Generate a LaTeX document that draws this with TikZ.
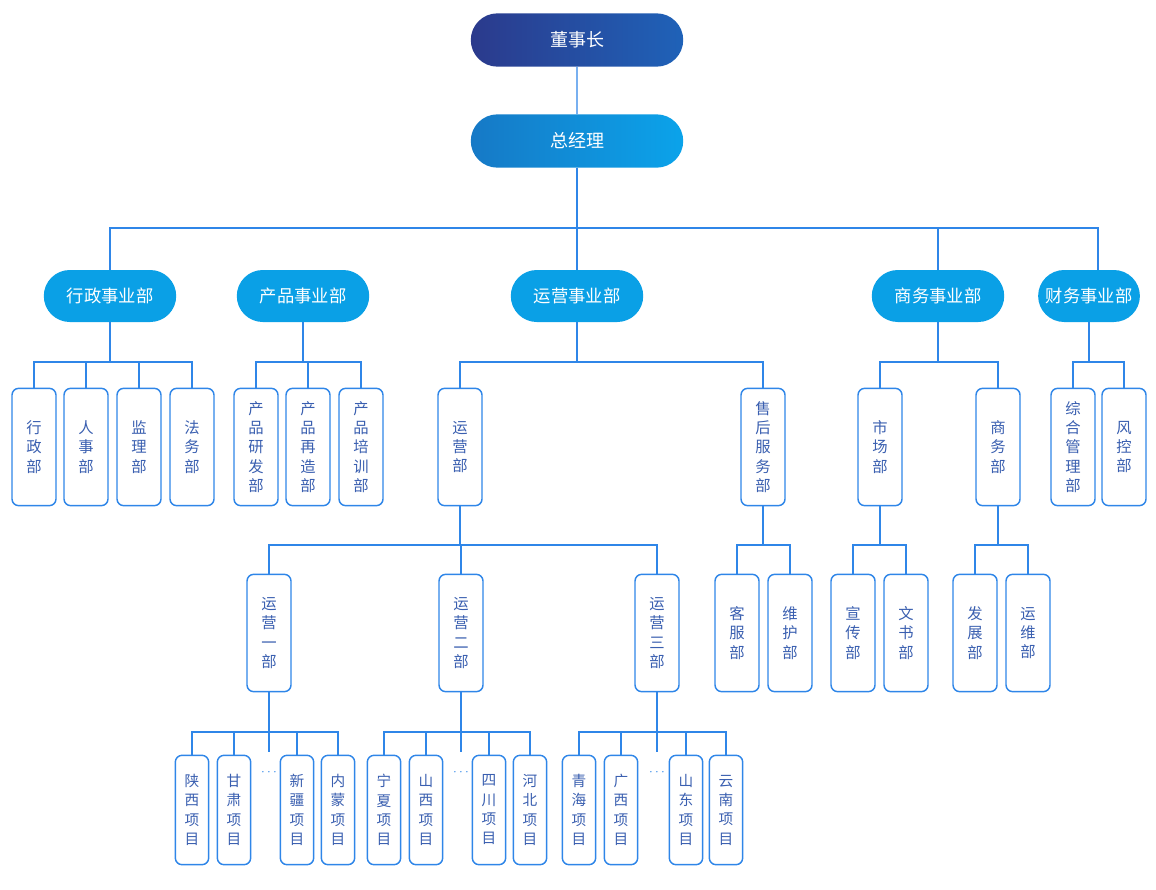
\documentclass[tikz,border=0pt]{standalone}
\usepackage{fontspec}
\setmainfont{Noto Sans CJK SC}
\usetikzlibrary{shapes.misc}
\definecolor{LineBlue}{HTML}{2F86E8}
\definecolor{PillBlue}{HTML}{0AA0E6}
\definecolor{TextBlue}{HTML}{3A5FB0}
\definecolor{NavyA}{HTML}{2B3A8C}
\definecolor{NavyB}{HTML}{1F62B8}
\definecolor{SkyA}{HTML}{1679C6}
\definecolor{SkyB}{HTML}{0BA3EA}

\begin{document}
\begin{tikzpicture}[
      x=0.75pt, y=-0.75pt,
      link/.style={LineBlue, line width=1.1pt},
      top/.style={rounded rectangle, minimum width=166pt, minimum height=40pt, text=white, font=\fontsize{13.5}{16}\selectfont},
      pill/.style={rounded rectangle, fill=PillBlue, minimum width=106pt, minimum height=39pt, text=white, font=\fontsize{13}{16}\selectfont},
      dept/.style={draw=LineBlue, line width=1.1pt, fill=white, rounded corners=5pt, minimum width=33pt, minimum height=88pt, text=TextBlue, align=center, font=\fontsize{11.5}{14.5}\selectfont},
      item/.style={draw=LineBlue, line width=1.1pt, fill=white, rounded corners=5pt, minimum width=25pt, minimum height=82pt, text=TextBlue, align=center, font=\fontsize{11}{14.5}\selectfont},
      dots/.style={text=LineBlue, font=\bfseries}
    ]
      \useasboundingbox (0,0) rectangle (1156,889);

      % top
      \node[top, left color=NavyA, right color=NavyB] (chair) at (577,40) {董事长};
      \node[top, left color=SkyA, right color=SkyB] (gm) at (577,141) {总经理};
      \draw[link] (chair) -- (gm);

      % divisions
      \node[pill] (xz) at (110,296) {行政事业部};
      \node[pill] (cp) at (303,296) {产品事业部};
      \node[pill] (yy) at (577,296) {运营事业部};
      \node[pill] (sw) at (938,296) {商务事业部};
      \node[pill, minimum width=83pt] (cw) at (1089,296) {财务事业部};
      \coordinate (cwin) at (1098,270);
      \draw[link] (gm.south) -- (577,228) -| (xz.north);
      \draw[link] (gm.south) -- (yy.north);
      \draw[link] (gm.south) -- (577,228) -| (sw.north);
      \draw[link] (gm.south) -- (577,228) -| (cwin);

      % departments
      \foreach \n/\x/\t/\p in {a1/34/行\\政\\部/xz, a2/86/人\\事\\部/xz, a3/139/监\\理\\部/xz, a4/192/法\\务\\部/xz,
          b1/256/产\\品\\研\\发\\部/cp, b2/308/产\\品\\再\\造\\部/cp, b3/361/产\\品\\培\\训\\部/cp,
          c1/460/运\\营\\部/yy, c2/763/售\\后\\服\\务\\部/yy,
          d1/880/市\\场\\部/sw, d2/998/商\\务\\部/sw,
          e1/1073/综\\合\\管\\理\\部/cw, e2/1124/风\\控\\部/cw}{
        \node[dept] (\n) at (\x,447) {\t};
        \draw[link] (\p.south) -- (\p.south |- 0,362) -| (\n.north);
      }

      % sub departments
      \foreach \n/\x/\t/\p in {f1/269/运\\营\\一\\部/c1, f2/461/运\\营\\二\\部/c1, f3/657/运\\营\\三\\部/c1,
          g1/737/客\\服\\部/c2, g2/790/维\\护\\部/c2,
          h1/853/宣\\传\\部/d1, h2/906/文\\书\\部/d1,
          i1/975/发\\展\\部/d2, i2/1028/运\\维\\部/d2}{
        \node[dept] (\n) at (\x,633) {\t};
        \draw[link] (\p.south) -- (\p.south |- 0,545) -| (\n.north);
      }

      % projects
      \foreach \n/\x/\t/\p in {j1/192/陕\\西\\项\\目/f1, j2/234/甘\\肃\\项\\目/f1, j3/297/新\\疆\\项\\目/f1, j4/338/内\\蒙\\项\\目/f1,
          k1/384/宁\\夏\\项\\目/f2, k2/426/山\\西\\项\\目/f2, k3/489/四\\川\\项\\目/f2, k4/530/河\\北\\项\\目/f2,
          l1/579/青\\海\\项\\目/f3, l2/621/广\\西\\项\\目/f3, l3/686/山\\东\\项\\目/f3, l4/726/云\\南\\项\\目/f3}{
        \node[item] (\n) at (\x,810) {\t};
        \draw[link] (\p.south) -- (\p.south |- 0,732) -| (\n.north);
      }
      \foreach \p in {f1,f2,f3}{
        \coordinate (\p gap) at ([yshift=-45pt]\p.south);
        \draw[link] (\p.south) -- (\p gap);
        \node[dots] at ([yshift=-60pt]\p.south) {$\cdots$};
      }
    \end{tikzpicture}
\end{document}
